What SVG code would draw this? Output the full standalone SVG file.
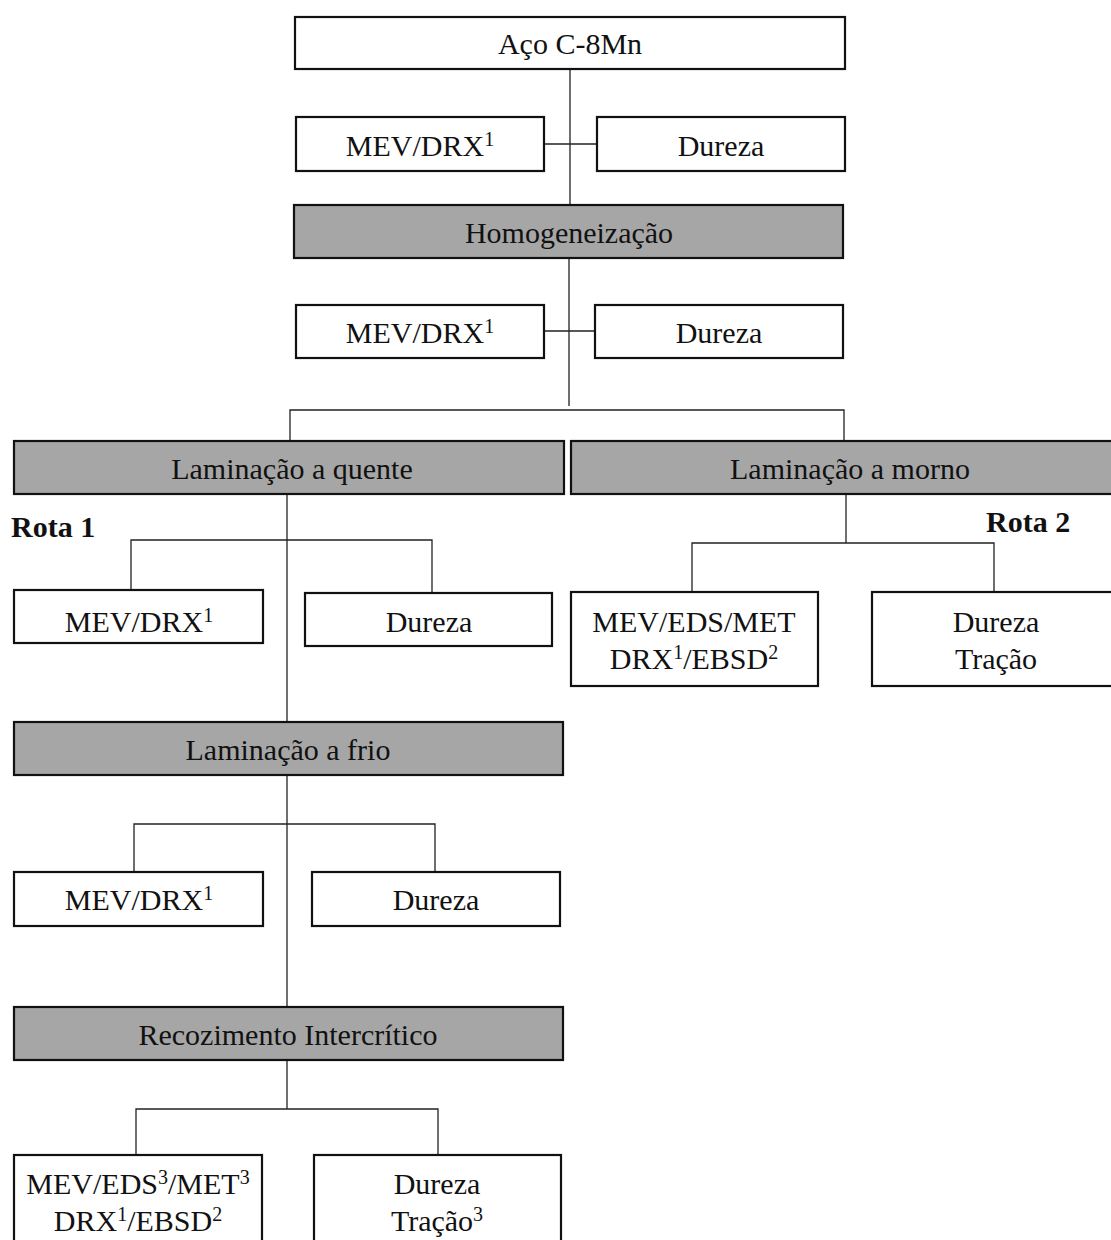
<svg xmlns="http://www.w3.org/2000/svg" width="1111" height="1240" viewBox="0 0 1111 1240">
  <style>
    .box { fill: #ffffff; stroke: #111111; stroke-width: 2.2; }
    .step { fill: #a6a6a6; stroke: #111111; stroke-width: 2.2; }
    .lbl { font-family: "Liberation Serif", "Times New Roman", serif; font-size: 30px; fill: #111111; text-anchor: middle; }
    .route { font-family: "Liberation Serif", "Times New Roman", serif; font-size: 30px; font-weight: bold; fill: #111111; }
    .sup { font-size: 20px; }
    #connectors path { fill: none; stroke: #222222; stroke-width: 1.3; }
  </style>

  <g id="connectors">
    <!-- main trunk -->
    <path d="M570 69 V205 M544 144 H597"/>
    <path d="M569 258 V406 M544 331 H595"/>
    <path d="M290 441 V410 H844 V441"/>
    <!-- route 1 -->
    <path d="M287 494 V722"/>
    <path d="M131 590 V540 H432 V593"/>
    <path d="M287 775 V1007"/>
    <path d="M134 872 V824 H435 V872"/>
    <path d="M287 1060 V1109"/>
    <path d="M136 1155 V1109 H438 V1155"/>
    <!-- route 2 -->
    <path d="M846 494 V543"/>
    <path d="M692 592 V543 H994 V592"/>
  </g>

  <g id="aco">
    <rect class="box" x="295" y="17" width="550" height="52"/>
    <text class="lbl" x="570" y="54">Aço C-8Mn</text>
  </g>
  <g id="mev-drx-0">
    <rect class="box" x="296" y="117" width="248" height="54"/>
    <text class="lbl" x="420" y="156">MEV/DRX<tspan class="sup" dy="-10">1</tspan></text>
  </g>
  <g id="dureza-0">
    <rect class="box" x="597" y="117" width="248" height="54"/>
    <text class="lbl" x="721" y="156">Dureza</text>
  </g>

  <g id="homogeneizacao">
    <rect class="step" x="294" y="205" width="549" height="53"/>
    <text class="lbl" x="569" y="243">Homogeneização</text>
  </g>
  <g id="mev-drx-1">
    <rect class="box" x="296" y="305" width="248" height="53"/>
    <text class="lbl" x="420" y="343">MEV/DRX<tspan class="sup" dy="-10">1</tspan></text>
  </g>
  <g id="dureza-1">
    <rect class="box" x="595" y="305" width="248" height="53"/>
    <text class="lbl" x="719" y="343">Dureza</text>
  </g>

  <g id="lam-quente">
    <rect class="step" x="14" y="441" width="550" height="53"/>
    <text class="lbl" x="292" y="479">Laminação a quente</text>
  </g>
  <g id="lam-morno">
    <rect class="step" x="571" y="441" width="542" height="53"/>
    <text class="lbl" x="850" y="479">Laminação a morno</text>
  </g>

  <text id="rota-1" class="route" x="11" y="537">Rota 1</text>
  <text id="rota-2" class="route" x="986" y="532">Rota 2</text>

  <g id="mev-drx-2">
    <rect class="box" x="14" y="590" width="249" height="53"/>
    <text class="lbl" x="139" y="632">MEV/DRX<tspan class="sup" dy="-10">1</tspan></text>
  </g>
  <g id="dureza-2">
    <rect class="box" x="305" y="593" width="247" height="53"/>
    <text class="lbl" x="429" y="632">Dureza</text>
  </g>

  <g id="mev-eds-met">
    <rect class="box" x="571" y="592" width="247" height="94"/>
    <text class="lbl" x="694" y="632">MEV/EDS/MET</text>
    <text class="lbl" x="694" y="669">DRX<tspan class="sup" dy="-10">1</tspan><tspan dy="10">/EBSD</tspan><tspan class="sup" dy="-10">2</tspan></text>
  </g>
  <g id="dureza-tracao-morno">
    <rect class="box" x="872" y="592" width="241" height="94"/>
    <text class="lbl" x="996" y="632">Dureza</text>
    <text class="lbl" x="996" y="669">Tração</text>
  </g>

  <g id="lam-frio">
    <rect class="step" x="14" y="722" width="549" height="53"/>
    <text class="lbl" x="288" y="760">Laminação a frio</text>
  </g>
  <g id="mev-drx-3">
    <rect class="box" x="14" y="872" width="249" height="54"/>
    <text class="lbl" x="139" y="910">MEV/DRX<tspan class="sup" dy="-10">1</tspan></text>
  </g>
  <g id="dureza-3">
    <rect class="box" x="312" y="872" width="248" height="54"/>
    <text class="lbl" x="436" y="910">Dureza</text>
  </g>

  <g id="recozimento">
    <rect class="step" x="14" y="1007" width="549" height="53"/>
    <text class="lbl" x="288" y="1045">Recozimento Intercrítico</text>
  </g>
  <g id="mev-eds-met-3">
    <rect class="box" x="14" y="1155" width="248" height="100"/>
    <text class="lbl" x="138" y="1194">MEV/EDS<tspan class="sup" dy="-10">3</tspan><tspan dy="10">/MET</tspan><tspan class="sup" dy="-10">3</tspan></text>
    <text class="lbl" x="138" y="1231">DRX<tspan class="sup" dy="-10">1</tspan><tspan dy="10">/EBSD</tspan><tspan class="sup" dy="-10">2</tspan></text>
  </g>
  <g id="dureza-tracao-3">
    <rect class="box" x="314" y="1155" width="247" height="100"/>
    <text class="lbl" x="437" y="1194">Dureza</text>
    <text class="lbl" x="437" y="1231">Tração<tspan class="sup" dy="-10">3</tspan></text>
  </g>
</svg>
